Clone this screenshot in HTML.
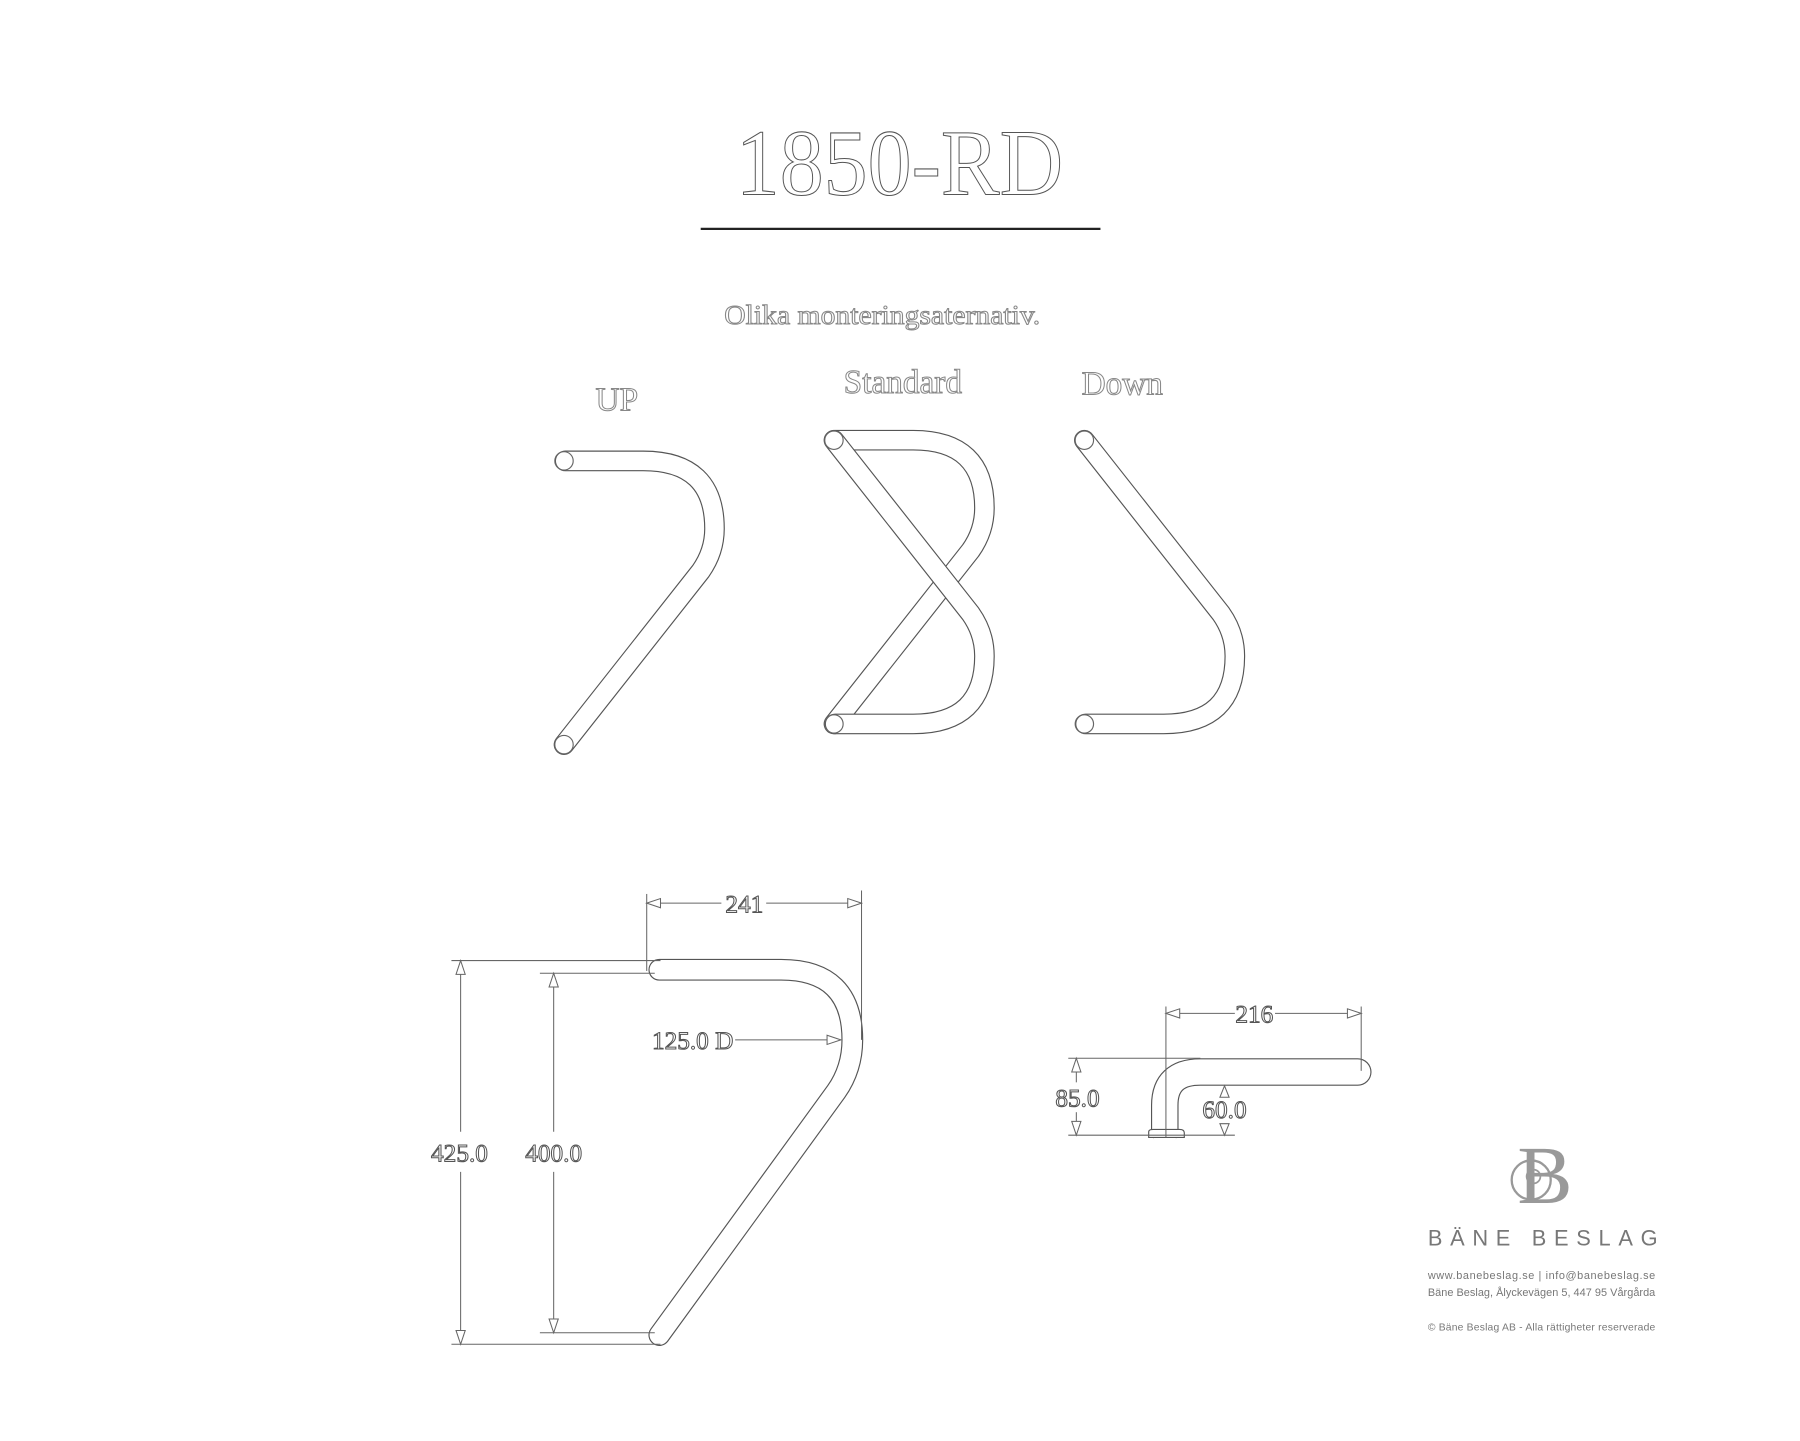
<!DOCTYPE html>
<html><head><meta charset="utf-8"><style>
html,body{margin:0;padding:0;background:#fff;}
svg{display:block;}
.o{font-family:"Liberation Serif",serif;fill:#fff;stroke:#555;stroke-width:0.9;}
.dim{stroke:#666;stroke-width:0.9;fill:none;}
.ar{fill:#fff;stroke:#666;stroke-width:0.9;}
.s{font-family:"Liberation Sans",sans-serif;fill:#777;}
</style></head><body>
<svg width="1800" height="1441" viewBox="0 0 1567 1254" xmlns="http://www.w3.org/2000/svg">
<defs>
<path id="up" d="M0,0 H68 Q130,0 130,59 Q130,79 118,96 L-1,247" fill="none"/>
<path id="dn" d="M-1,0 L118,151 Q130,168 130,188 Q130,247 68,247 H0" fill="none"/>
</defs>
<text x="783" y="169" text-anchor="middle" class="o" font-size="82" stroke-width="1.2" textLength="285" lengthAdjust="spacingAndGlyphs">1850-RD</text>
<line x1="610" y1="199" x2="958" y2="199" stroke="#222" stroke-width="2"/>
<text x="768" y="282" text-anchor="middle" class="o" font-size="24" style="stroke:#888" textLength="275" lengthAdjust="spacingAndGlyphs">Olika monteringsaternativ.</text>
<text x="537" y="357" text-anchor="middle" class="o" font-size="29" style="stroke:#888">UP</text>
<text x="786" y="342" text-anchor="middle" class="o" font-size="29" style="stroke:#888">Standard</text>
<text x="977" y="343" text-anchor="middle" class="o" font-size="29" style="stroke:#888">Down</text>

<g stroke-linecap="round">
<g transform="translate(492,401)"><use href="#up" stroke="#555" stroke-width="18"/><use href="#up" stroke="#fff" stroke-width="16"/></g>
<g transform="translate(727,383)"><use href="#up" stroke="#555" stroke-width="18"/><use href="#up" stroke="#fff" stroke-width="16"/></g>
<g transform="translate(727,383)"><use href="#dn" stroke="#555" stroke-width="18"/><use href="#dn" stroke="#fff" stroke-width="16"/></g>
<g transform="translate(945,383)"><use href="#dn" stroke="#555" stroke-width="18"/><use href="#dn" stroke="#fff" stroke-width="16"/></g>
</g>
<g fill="none" stroke="#666" stroke-width="1">
<circle cx="491" cy="401" r="8"/><circle cx="491" cy="648" r="8"/>
<circle cx="726" cy="383" r="8"/><circle cx="726" cy="630" r="8"/>
<circle cx="944" cy="383" r="8"/><circle cx="944" cy="630" r="8"/>
</g>

<path d="M574,844 H680 Q742,844 742,905 Q742,930 728,950 L574,1162" fill="none" stroke="#555" stroke-width="19" stroke-linecap="round"/>
<path d="M574,844 H680 Q742,844 742,905 Q742,930 728,950 L574,1162" fill="none" stroke="#fff" stroke-width="17" stroke-linecap="round"/>
<g class="dim">
<line x1="563" y1="778" x2="563" y2="845"/><line x1="750" y1="775" x2="750" y2="905"/>
<line x1="563" y1="786" x2="628" y2="786"/><line x1="667" y1="786" x2="750" y2="786"/>
<line x1="393" y1="836" x2="575" y2="836"/><line x1="393" y1="1170" x2="575" y2="1170"/>
<line x1="470" y1="847" x2="570" y2="847"/><line x1="470" y1="1160" x2="570" y2="1160"/>
<line x1="401" y1="836" x2="401" y2="985"/><line x1="401" y1="1020" x2="401" y2="1170"/>
<line x1="482" y1="847" x2="482" y2="985"/><line x1="482" y1="1020" x2="482" y2="1160"/>
<line x1="640" y1="905" x2="732" y2="905"/>
</g>
<g class="ar">
<path d="M563,786 l12,-4 v8z"/><path d="M750,786 l-12,-4 v8z"/>
<path d="M401,836 l-4,12 h8z"/><path d="M401,1170 l-4,-12 h8z"/>
<path d="M482,847 l-4,12 h8z"/><path d="M482,1160 l-4,-12 h8z"/>
<path d="M732,905 l-12,-4 v8z"/>
</g>
<text x="648" y="794" text-anchor="middle" class="o" font-size="22">241</text>
<text x="400" y="1011" text-anchor="middle" class="o" font-size="22">425.0</text>
<text x="482" y="1011" text-anchor="middle" class="o" font-size="22">400.0</text>
<text x="603" y="913" text-anchor="middle" class="o" font-size="22">125.0 D</text>

<path d="M1014,984 V962 Q1014,933 1045,933 H1182" fill="none" stroke="#555" stroke-width="24" stroke-linecap="round"/>
<path d="M1014,986 V962 Q1014,933 1045,933 H1182" fill="none" stroke="#fff" stroke-width="22" stroke-linecap="round"/>
<path d="M1000,990 V985 Q1000,983 1004,983 H1027 Q1031,983 1031,986 V990Z" fill="#fff" stroke="#555" stroke-width="1"/>
<g class="dim">
<line x1="1015" y1="876" x2="1015" y2="990"/><line x1="1185" y1="876" x2="1185" y2="932"/>
<line x1="1015" y1="882" x2="1075" y2="882"/><line x1="1110" y1="882" x2="1185" y2="882"/>
<line x1="930" y1="921" x2="1045" y2="921"/><line x1="930" y1="988" x2="1075" y2="988"/>
<line x1="937" y1="921" x2="937" y2="942"/><line x1="937" y1="968" x2="937" y2="988"/>
<line x1="1066" y1="945" x2="1066" y2="953"/><line x1="1066" y1="978" x2="1066" y2="988"/>
</g>
<g class="ar">
<path d="M1015,882 l12,-4 v8z"/><path d="M1185,882 l-12,-4 v8z"/>
<path d="M937,921 l-4,12 h8z"/><path d="M937,988 l-4,-12 h8z"/>
<path d="M1066,945 l-4,10 h8z"/><path d="M1066,988 l-4,-10 h8z"/>
</g>
<text x="1092" y="890" text-anchor="middle" class="o" font-size="22">216</text>
<text x="938" y="963" text-anchor="middle" class="o" font-size="22">85.0</text>
<text x="1066" y="973" text-anchor="middle" class="o" font-size="22">60.0</text>

<text x="1345" y="1047" text-anchor="middle" font-family="Liberation Serif,serif" font-size="72" fill="#999">B</text>
<circle cx="1333" cy="1027" r="17" fill="none" stroke="#999" stroke-width="2"/>
<circle cx="1335" cy="1024" r="6" fill="none" stroke="#999" stroke-width="1.5"/>
<text x="1243" y="1084" class="s" font-size="19" textLength="200" lengthAdjust="spacing">BÄNE BESLAG</text>
<text x="1243" y="1113" class="s" font-size="9.5" textLength="198" lengthAdjust="spacing">www.banebeslag.se   |   info@banebeslag.se</text>
<text x="1243" y="1128" class="s" font-size="9.5" textLength="198" lengthAdjust="spacing">Bäne Beslag, Ålyckevägen 5, 447 95 Vårgårda</text>
<text x="1243" y="1158" class="s" font-size="9" textLength="198" lengthAdjust="spacing">© Bäne Beslag AB - Alla rättigheter reserverade</text>
</svg>
</body></html>
